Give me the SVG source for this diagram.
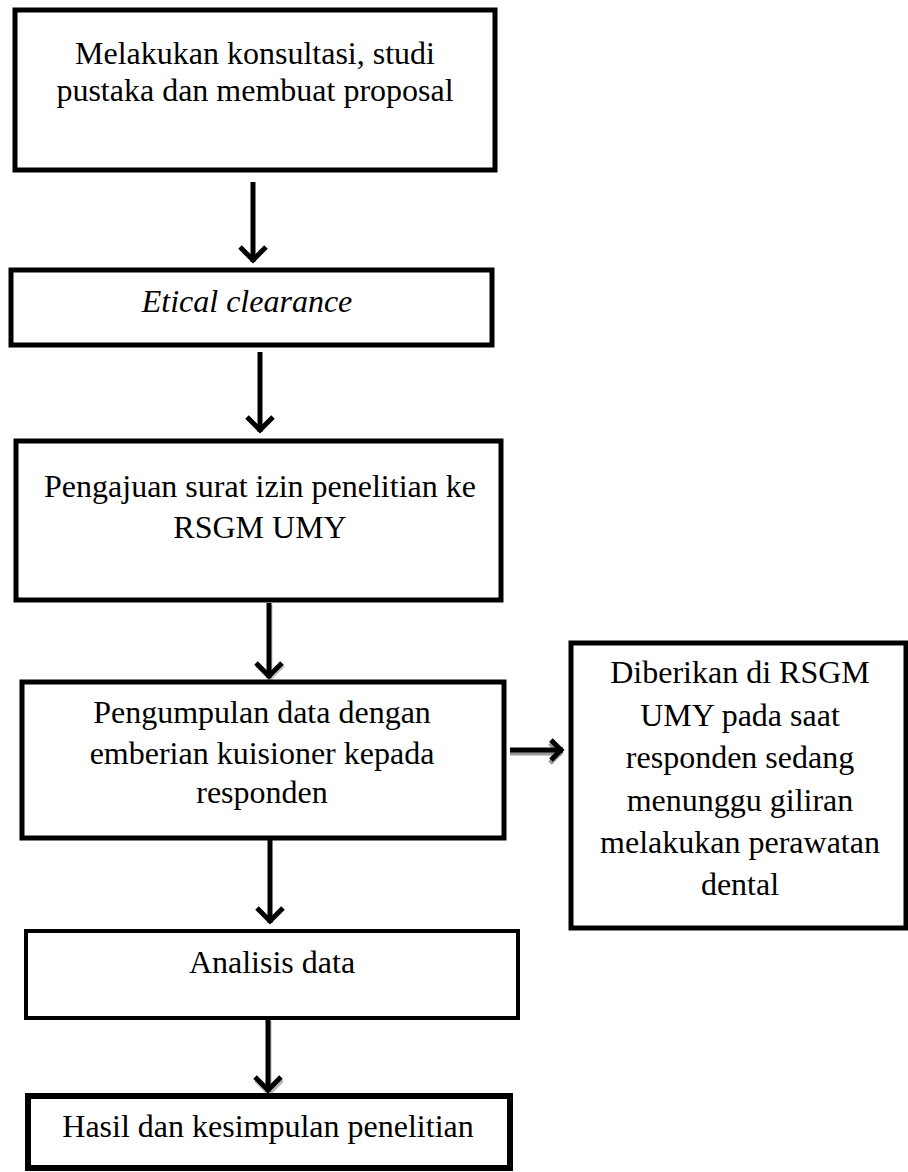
<svg xmlns="http://www.w3.org/2000/svg" width="908" height="1172" viewBox="0 0 908 1172">
  <style>
    .box { fill: #ffffff; stroke: #000000; stroke-width: 5; }
    .lbl { font-family: "Liberation Serif", "Times New Roman", serif; font-size: 32px; fill: #000000; text-anchor: middle; }
    .it { font-style: italic; }
    .shaft { stroke: #000000; stroke-width: 5; fill: none; }
    .shadow { stroke: #9a9a9a; stroke-width: 5; fill: none; }
  </style>
  <defs>
    <marker id="chev" markerUnits="userSpaceOnUse" markerWidth="26" markerHeight="34" refX="19" refY="16" orient="auto" overflow="visible">
      <path d="M4,3 L17,16 L4,29" fill="none" stroke="#000000" stroke-width="5" stroke-linejoin="miter"/>
    </marker>
    <marker id="chevS" markerUnits="userSpaceOnUse" markerWidth="20" markerHeight="28" refX="15" refY="13" orient="auto" overflow="visible">
      <path d="M3,3 L13,13 L3,23" fill="none" stroke="#000000" stroke-width="5" stroke-linejoin="miter"/>
    </marker>
    <marker id="chevSh" markerUnits="userSpaceOnUse" markerWidth="20" markerHeight="28" refX="15" refY="13" orient="auto" overflow="visible">
      <path d="M3,3 L13,13 L3,23" fill="none" stroke="#9a9a9a" stroke-width="5" stroke-linejoin="miter"/>
    </marker>
    <marker id="chevG" markerUnits="userSpaceOnUse" markerWidth="26" markerHeight="34" refX="19" refY="16" orient="auto" overflow="visible">
      <path d="M4,3 L17,16 L4,29" fill="none" stroke="#9a9a9a" stroke-width="5" stroke-linejoin="miter"/>
    </marker>
  </defs>

  <g id="connectors">
    <line class="shaft" x1="253" y1="182" x2="253" y2="262" marker-end="url(#chev)"/>
    <line class="shaft" x1="260" y1="352" x2="260" y2="432" marker-end="url(#chev)"/>
    <line class="shadow" x1="270" y1="605" x2="270" y2="680" marker-end="url(#chevG)" opacity="0.6"/>
    <line class="shaft" x1="269" y1="603" x2="269" y2="678" marker-end="url(#chev)"/>
    <line class="shaft" x1="270" y1="840" x2="270" y2="923" marker-end="url(#chev)"/>
    <line class="shadow" x1="269" y1="1021" x2="269" y2="1095" marker-end="url(#chevG)" opacity="0.7"/>
    <line class="shaft" x1="268" y1="1020" x2="268" y2="1092" marker-end="url(#chev)"/>
    <line class="shadow" x1="510" y1="753" x2="562" y2="753" marker-end="url(#chevSh)"/>
    <line class="shaft" x1="510" y1="750" x2="563" y2="750" marker-end="url(#chevS)"/>
  </g>

  <g id="node1">
    <rect class="box" x="15" y="10" width="480" height="160"/>
    <text class="lbl" x="255" y="64">Melakukan konsultasi, studi</text>
    <text class="lbl" x="255" y="101">pustaka dan membuat proposal</text>
  </g>

  <g id="node2">
    <rect class="box" x="11" y="270" width="481" height="75"/>
    <text class="lbl it" x="247" y="312">Etical clearance</text>
  </g>

  <g id="node3">
    <rect class="box" x="16" y="441" width="485" height="159"/>
    <text class="lbl" x="260" y="497">Pengajuan surat izin penelitian ke</text>
    <text class="lbl" x="260" y="538">RSGM UMY</text>
  </g>

  <g id="node4">
    <rect class="box" x="22" y="682" width="482" height="156"/>
    <text class="lbl" x="262" y="723">Pengumpulan data dengan</text>
    <text class="lbl" x="262" y="764">emberian kuisioner kepada</text>
    <text class="lbl" x="262" y="803">responden</text>
  </g>

  <g id="node5">
    <rect class="box" x="571" y="643" width="335" height="285"/>
    <text class="lbl" x="740" y="683">Diberikan di RSGM</text>
    <text class="lbl" x="740" y="726">UMY pada saat</text>
    <text class="lbl" x="740" y="768">responden sedang</text>
    <text class="lbl" x="740" y="811">menunggu giliran</text>
    <text class="lbl" x="740" y="853">melakukan perawatan</text>
    <text class="lbl" x="740" y="895">dental</text>
  </g>

  <g id="node6">
    <rect class="box" x="26" y="931" width="492" height="87" style="stroke-width:4"/>
    <text class="lbl" x="272" y="973">Analisis data</text>
  </g>

  <g id="node7">
    <rect class="box" x="28" y="1096" width="482" height="72" style="stroke-width:6"/>
    <text class="lbl" x="268" y="1137">Hasil dan kesimpulan penelitian</text>
  </g>
</svg>
